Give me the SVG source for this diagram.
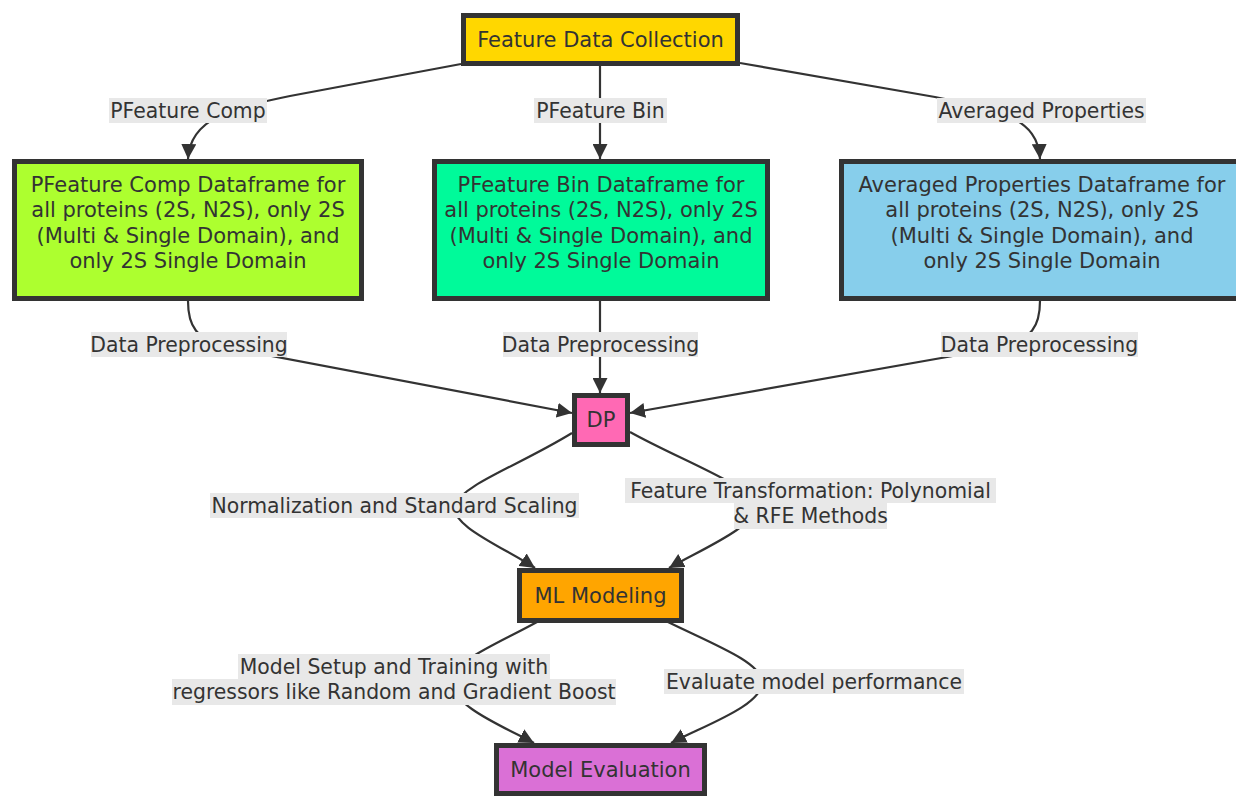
<svg xmlns="http://www.w3.org/2000/svg" width="1236" height="796" viewBox="0 0 1236 796">
<style>
text{font-family:"DejaVu Sans","Liberation Sans",sans-serif;font-size:21px;fill:#333;text-anchor:middle;dominant-baseline:central}
.node rect{stroke:#333;stroke-width:5}
.edge{fill:none;stroke:#333;stroke-width:2.2}
.lbl rect{fill:#e8e8e8}
.lbl text{font-size:20.4px}
</style>
<defs>
<marker id="ah" viewBox="0 0 10 10" refX="10" refY="5" markerUnits="userSpaceOnUse" markerWidth="15" markerHeight="15" orient="auto">
<path d="M0,0 L10,5 L0,10 z" fill="#333"/>
</marker>
</defs>
<rect width="1236" height="796" fill="#fff"/>
<g id="connectors">
<path class="edge" d="M461,64 L290,96 C232,108 190,118 188,159" marker-end="url(#ah)"/>
<path class="edge" d="M600,66 L600,159" marker-end="url(#ah)"/>
<path class="edge" d="M740,63 L935,97 C1000,110 1038,118 1040,159" marker-end="url(#ah)"/>
<path class="edge" d="M188,301 C188,325 195,340 230,348 L572,413" marker-end="url(#ah)"/>
<path class="edge" d="M600,301 L600,393" marker-end="url(#ah)"/>
<path class="edge" d="M1040,301 C1040,325 1033,340 998,348 L630,413" marker-end="url(#ah)"/>
<path class="edge" d="M572,433 C520,465 462,485 455,505 C448,525 505,548 535,568" marker-end="url(#ah)"/>
<path class="edge" d="M630,432 C680,460 750,485 755,505 C760,525 700,550 669,568" marker-end="url(#ah)"/>
<path class="edge" d="M537,622 C495,645 455,660 452,680 C450,705 500,725 534,743" marker-end="url(#ah)"/>
<path class="edge" d="M668,622 C715,645 760,662 762,681 C764,705 705,725 671,743" marker-end="url(#ah)"/>
</g>
<g id="edge-labels">
<g class="lbl"><rect x="109" y="98" width="158" height="25"/><text x="188" y="110.5">PFeature Comp</text></g>
<g class="lbl"><rect x="534" y="98" width="133" height="25"/><text x="600.5" y="110.5">PFeature Bin</text></g>
<g class="lbl"><rect x="937" y="98" width="209" height="25"/><text x="1041.5" y="110.5">Averaged Properties</text></g>
<g class="lbl"><rect x="91" y="332" width="196" height="25"/><text x="189" y="344.5">Data Preprocessing</text></g>
<g class="lbl"><rect x="503" y="332" width="195" height="25"/><text x="600.5" y="344.5">Data Preprocessing</text></g>
<g class="lbl"><rect x="941" y="332" width="197" height="25"/><text x="1039.5" y="344.5">Data Preprocessing</text></g>
<g class="lbl"><rect x="210" y="493" width="369" height="25"/><text x="394.5" y="505.5">Normalization and Standard Scaling</text></g>
<g class="lbl"><rect x="625" y="478" width="371" height="25"/><rect x="734" y="503" width="153" height="26"/><text x="810.5" y="490.5">Feature Transformation: Polynomial</text><text x="810.5" y="516">&amp; RFE Methods</text></g>
<g class="lbl"><rect x="238" y="654" width="312" height="25"/><rect x="172" y="679" width="444" height="26"/><text x="394" y="666.5">Model Setup and Training with</text><text x="394" y="692">regressors like Random and Gradient Boost</text></g>
<g class="lbl"><rect x="664" y="669" width="300" height="25"/><text x="814" y="681.5">Evaluate model performance</text></g>
</g>
<g id="fdc" class="node"><rect x="463.5" y="15.5" width="274" height="48" fill="#ffd700"/><text x="600.5" y="39.5">Feature Data Collection</text></g>
<g id="comp" class="node"><rect x="14.5" y="161.5" width="347" height="137" fill="#adff2f"/>
<text x="188" y="185">PFeature Comp Dataframe for</text><text x="188" y="210.3">all proteins (2S, N2S), only 2S</text><text x="188" y="235.6">(Multi &amp; Single Domain), and</text><text x="188" y="261">only 2S Single Domain</text></g>
<g id="bin" class="node"><rect x="434.5" y="161.5" width="333" height="137" fill="#00fa9a"/>
<text x="601" y="185">PFeature Bin Dataframe for</text><text x="601" y="210.3">all proteins (2S, N2S), only 2S</text><text x="601" y="235.6">(Multi &amp; Single Domain), and</text><text x="601" y="261">only 2S Single Domain</text></g>
<g id="avg" class="node"><rect x="841.5" y="161.5" width="401" height="137" fill="#87ceeb"/>
<text x="1042" y="185">Averaged Properties Dataframe for</text><text x="1042" y="210.3">all proteins (2S, N2S), only 2S</text><text x="1042" y="235.6">(Multi &amp; Single Domain), and</text><text x="1042" y="261">only 2S Single Domain</text></g>
<g id="dp" class="node"><rect x="574.5" y="395.5" width="53" height="49" fill="#ff69b4"/><text x="601" y="420">DP</text></g>
<g id="ml" class="node"><rect x="519.5" y="570.5" width="162" height="50" fill="#ffa500"/><text x="600.5" y="595.5">ML Modeling</text></g>
<g id="eval" class="node"><rect x="496.5" y="745.5" width="208" height="48" fill="#da70d6"/><text x="600.5" y="770">Model Evaluation</text></g>
</svg>
